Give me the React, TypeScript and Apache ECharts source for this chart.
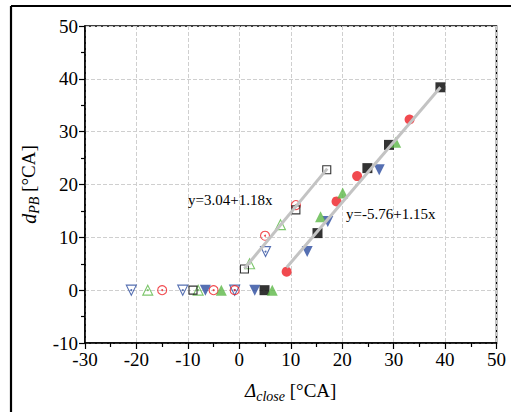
import React, { useEffect, useRef } from 'react';
import * as echarts from 'echarts';

const FONT = "'Liberation Serif', 'Times New Roman', serif";
const RED = '#ee1d23';
const GREEN = '#5db847';
const BLUE = '#2b4b9f';
const BLACK = '#000000';
const LINE_GRAY = '#c3c3c3';

// open symbols (first group)
const openSquare: number[][] = [[-9, 0], [1, 4], [11, 15.2], [17, 22.8]];
const openCircle: number[][] = [[-15, 0], [-5, 0], [-0.9, 0], [5, 10.3], [11, 16.1]];
const openTriangle: number[][] = [[-17.8, 0], [-8, 0], [2, 5], [8, 12.4]];
const openDownTriangle: number[][] = [[-21, 0], [-11, 0], [-0.9, 0], [5.1, 7.3]];

// solid symbols (second group)
const solidSquare: number[][] = [[4.9, 0], [15.2, 10.8], [24.9, 23.1], [29.1, 27.5], [39.1, 38.4]];
const solidCircle: number[][] = [[9.2, 3.5], [18.9, 16.8], [22.9, 21.6], [33.1, 32.3]];
const solidTriangle: number[][] = [[-3.5, 0], [6.4, 0], [15.8, 13.9], [20.1, 18.4], [30.4, 28.0]];
const solidDownTriangle: number[][] = [[-6.6, 0], [3, 0], [13.2, 7.3], [17.2, 13.0], [27.2, 22.8]];

// fitted lines (end points)
const fitOpen: number[][] = [[1.0, 4.1], [17.1, 23.0]];
const fitSolid: number[][] = [[9.2, 4.3], [39.1, 38.4]];

const fitOpenLabel = 'y=3.04+1.18x';
const fitSolidLabel = 'y=-5.76+1.15x';

type Spec = {
  name: string;
  data: number[][];
  symbol: string;
  rotate: number;
  size: number;
  color: string;
  filled: boolean;
  dot: boolean;
};

const specs: Spec[] = [
  { name: 'openDownTriangle', data: openDownTriangle, symbol: 'triangle', rotate: 180, size: 10, color: BLUE, filled: false, dot: true },
  { name: 'openTriangle', data: openTriangle, symbol: 'triangle', rotate: 0, size: 10, color: GREEN, filled: false, dot: true },
  { name: 'openCircle', data: openCircle, symbol: 'circle', rotate: 0, size: 9, color: RED, filled: false, dot: true },
  { name: 'openSquare', data: openSquare, symbol: 'rect', rotate: 0, size: 8, color: BLACK, filled: false, dot: false },
  { name: 'solidSquare', data: solidSquare, symbol: 'rect', rotate: 0, size: 10, color: BLACK, filled: true, dot: false },
  { name: 'solidDownTriangle', data: solidDownTriangle, symbol: 'triangle', rotate: 180, size: 11, color: BLUE, filled: true, dot: false },
  { name: 'solidCircle', data: solidCircle, symbol: 'circle', rotate: 0, size: 10, color: RED, filled: true, dot: false },
  { name: 'solidTriangle', data: solidTriangle, symbol: 'triangle', rotate: 0, size: 11, color: GREEN, filled: true, dot: false },
];

export default function App() {
  const ref = useRef<HTMLDivElement>(null);

  useEffect(() => {
    document.body.style.margin = '0';
    if (!ref.current) return;
    const chart = echarts.init(ref.current, null, { renderer: 'svg' });

    const series: any[] = [];
    specs.forEach((s) => {
      series.push({
        type: 'scatter',
        name: s.name,
        data: s.data,
        symbol: s.symbol,
        symbolRotate: s.rotate,
        symbolSize: s.size,
        z: 3,
        itemStyle: s.filled
          ? { color: s.color, borderWidth: 0 }
          : { color: 'rgba(255,255,255,0)', borderColor: s.color, borderWidth: 1.1 },
      });
      if (s.dot) {
        series.push({
          type: 'scatter',
          name: s.name + '-dot',
          data: s.data,
          symbol: 'circle',
          symbolSize: 2,
          z: 3,
          itemStyle: { color: s.color },
        });
      }
    });
    [fitOpen, fitSolid].forEach((d, i) => {
      series.push({
        type: 'line',
        name: 'fit' + i,
        data: d,
        showSymbol: false,
        symbol: 'none',
        z: 4,
        lineStyle: { color: LINE_GRAY, width: 3 },
      });
    });

    const tickStyle = { color: BLACK, width: 1.2 };

    chart.setOption({
      animation: false,
      grid: {
        left: 85,
        right: 14.5,
        top: 26,
        bottom: 69,
        show: true,
        borderColor: BLACK,
        borderWidth: 1.5,
        backgroundColor: 'transparent',
      },
      xAxis: {
        type: 'value',
        min: -30,
        max: 50,
        interval: 10,
        axisLine: { show: true, onZero: false, lineStyle: { color: BLACK, width: 1.5 } },
        axisTick: { show: true, inside: false, length: 6, lineStyle: tickStyle },
        minorTick: { show: true, splitNumber: 2, length: 4, lineStyle: tickStyle },
        axisLabel: { fontSize: 19, color: BLACK, fontFamily: FONT, margin: 7 },
        splitLine: { show: true, lineStyle: { type: 'dashed', color: '#cfcfcf', width: 1 } },
        name: '{it|Δ}{sub|close}{n| [°CA]}',
        nameLocation: 'middle',
        nameGap: 34,
        nameTextStyle: {
          fontFamily: FONT,
          color: BLACK,
          rich: {
            it: { fontFamily: FONT, fontStyle: 'italic', fontSize: 19, lineHeight: 26, color: BLACK },
            sub: { fontFamily: FONT, fontStyle: 'italic', fontSize: 14, lineHeight: 14, verticalAlign: 'bottom', color: BLACK },
            n: { fontFamily: FONT, fontSize: 19, lineHeight: 26, color: BLACK },
          },
        },
      },
      yAxis: {
        type: 'value',
        min: -10,
        max: 50,
        interval: 10,
        axisLine: { show: true, onZero: false, lineStyle: { color: BLACK, width: 1.5 } },
        axisTick: { show: true, inside: false, length: 6, lineStyle: tickStyle },
        minorTick: { show: true, splitNumber: 2, length: 4, lineStyle: tickStyle },
        axisLabel: { fontSize: 19, color: BLACK, fontFamily: FONT, margin: 7 },
        splitLine: { show: true, lineStyle: { type: 'dashed', color: '#cfcfcf', width: 1 } },
        name: '{it|d}{sub|PB}{n| [°CA]}',
        nameLocation: 'middle',
        nameRotate: 90,
        nameGap: 36,
        nameTextStyle: {
          fontFamily: FONT,
          color: BLACK,
          rich: {
            it: { fontFamily: FONT, fontStyle: 'italic', fontSize: 20, lineHeight: 26, color: BLACK },
            sub: { fontFamily: FONT, fontStyle: 'italic', fontSize: 14, lineHeight: 14, verticalAlign: 'bottom', color: BLACK },
            n: { fontFamily: FONT, fontSize: 19, lineHeight: 26, color: BLACK },
          },
        },
      },
      graphic: [
        { type: 'line', shape: { x1: 11, y1: 6, x2: 511, y2: 6 }, style: { stroke: BLACK, lineWidth: 2.2 } },
        { type: 'line', shape: { x1: 11, y1: 6, x2: 11, y2: 412 }, style: { stroke: BLACK, lineWidth: 2.2 } },
        {
          type: 'text',
          left: 188,
          top: 192,
          z: 10,
          style: { text: fitOpenLabel, fontFamily: FONT, fontSize: 15, fill: BLACK },
        },
        {
          type: 'text',
          left: 346,
          top: 206,
          z: 10,
          style: { text: fitSolidLabel, fontFamily: FONT, fontSize: 15, fill: BLACK },
        },
      ],
      series,
    });

    return () => chart.dispose();
  }, []);

  return <div ref={ref} style={{ width: 511, height: 412 }} />;
}
